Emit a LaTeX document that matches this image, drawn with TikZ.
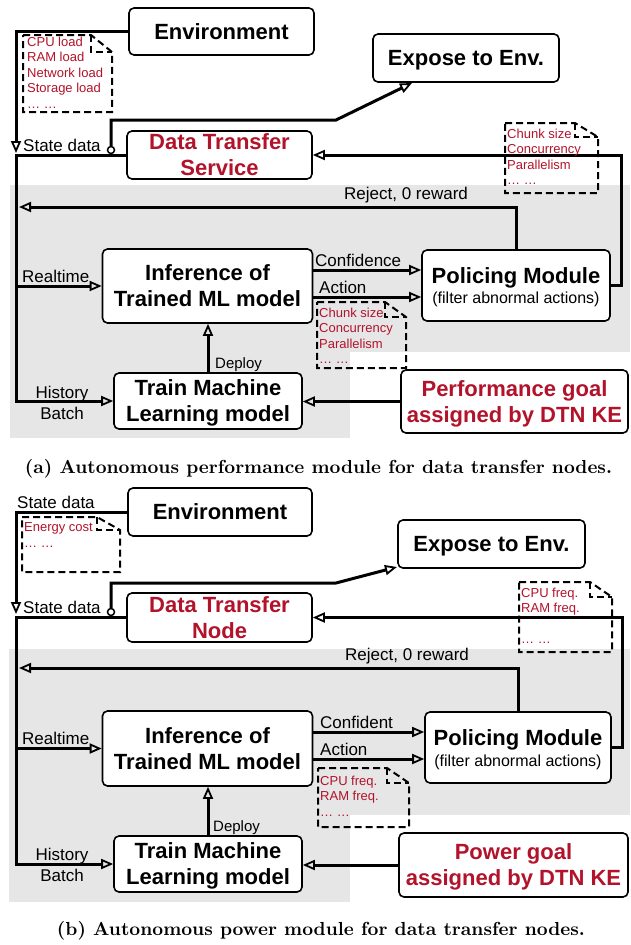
\documentclass[tikz,border=0pt]{standalone}
\usepackage{fontspec}
\setsansfont{Liberation Sans}
\usetikzlibrary{arrows.meta}
\definecolor{dred}{RGB}{178,18,42}
\definecolor{bggray}{RGB}{230,230,230}
\tikzset{
 box/.style={draw, rounded corners=5pt, line width=1.6pt, fill=white, align=center, inner sep=0pt, text depth=0pt, font=\sffamily\bfseries\fontsize{22}{26}\selectfont},
 conn/.style={line width=3pt},
 arr/.style={-{Triangle[open,length=12pt,width=10pt,line width=1.8pt]}},
 lbl/.style={font=\sffamily\fontsize{17}{20}\selectfont, inner sep=0pt},
 smalllbl/.style={font=\sffamily\fontsize{15}{18}\selectfont, inner sep=0pt},
 boldtxt/.style={font=\sffamily\bfseries\fontsize{22}{26}\selectfont, inner sep=0pt, anchor=base},
 subtxt/.style={font=\sffamily\fontsize{16}{19}\selectfont, inner sep=0pt, anchor=base},
 notetxt/.style={font=\sffamily\fontsize{13}{15.6}\selectfont, text=dred, inner sep=0pt, anchor=north west, align=left},
 notestroke/.style={draw, line width=2pt, dash pattern=on 7pt off 4pt},
 captxt/.style={font=\bfseries, inner sep=0pt, anchor=base},
 dot/.style={circle, draw, fill=white, line width=1.5pt, minimum size=7pt, inner sep=0pt}
}
\newcommand\notebox[6]{%
 \draw[notestroke] (#1,#2) -- (#5,#2) -- (#3,#6) -- (#3,#4) -- (#1,#4) -- cycle;
 \draw[notestroke] (#5,#2) -- (#5,#6) -- (#3,#6);}
\begin{document}
\begin{tikzpicture}[x=1pt,y=-1pt]
\useasboundingbox (0,0) rectangle (630,945);
% ---------- panel (a) ----------
\fill[bggray] (10,185) rectangle (630,352);
\fill[bggray] (10,352) rectangle (350,438);

\node[box, minimum width=185pt, minimum height=47pt] (envA) at (221.5,31.5) {Environment};
\node[box, minimum width=186pt, minimum height=48pt] (expA) at (466,58) {Expose to Env.};
\node[box, text=dred, minimum width=185pt, minimum height=48pt] (dtsA) at (219.5,155) {Data Transfer\\Service};
\node[box, minimum width=210pt, minimum height=74pt] (infA) at (207.5,286) {Inference of\\Trained ML model};
\node[box, minimum width=188pt, minimum height=71pt] (polA) at (516,285.5) {};
\node[boldtxt] (polA1) at (516,283) {Policing Module};
\node[subtxt] (polA2) at (516,303) {(filter abnormal actions)};
\node[box, minimum width=188pt, minimum height=56pt] (trnA) at (208,401) {Train Machine\\Learning model};
\node[box, text=dred, minimum width=227pt, minimum height=63pt] (perfA) at (514.5,401.5) {Performance goal\\assigned by DTN KE};

\coordinate (jA) at (16,155);
\coordinate (jAtip) at (16,153);
\coordinate (rtA) at (16,286);
\coordinate (bA) at (336,120);
\coordinate (eA) at (412,83);
\coordinate (rA) at (621,155);
\coordinate (rjA) at (19,207);
\coordinate (cfA) at (0,270);
\coordinate (acA) at (0,297);

\draw[conn,arr] (envA.west) -| (jAtip);
\draw[conn,arr] (dtsA.west) -- (jA) |- (trnA.west);
\draw[conn,arr] (rtA) -- (infA.west);
\node[dot] (cA) at (111,150) {};
\draw[conn,arr] (cA.north) |- (bA) -- (eA);
\draw[conn,arr] (polA.east) -| (rA) -- (dtsA.east);
\draw[conn,arr] (polA.north) |- (rjA);
\draw[conn,arr] (infA.east |- cfA) -- (polA.west |- cfA);
\draw[conn,arr] (infA.east |- acA) -- (polA.west |- acA);
\draw[conn,arr] (trnA.north) -- (trnA.north |- infA.south);
\draw[conn,arr] (perfA.west) -- (perfA.west -| trnA.east);

\node[lbl, anchor=base west] (sdA) at (23,151) {State data};
\node[lbl, anchor=base west] (rjlA) at (344,199) {Reject, 0 reward};
\node[lbl, anchor=base west] (rtlA) at (22,282) {Realtime};
\node[lbl, anchor=base] (hilA) at (62,398) {History};
\node[lbl, anchor=base] (balA) at (62,419) {Batch};
\node[smalllbl, anchor=base west] (dplA) at (215,368) {Deploy};
\node[lbl, anchor=base west] (cflA) at (315,266) {Confidence};
\node[lbl, anchor=base west] (aclA) at (319,293) {Action};

\notebox{23}{35}{112}{112}{91}{52}
\node[notetxt] (n1A) at (27,36.4) {CPU load\\RAM load\\Network load\\Storage load\\… …};
\notebox{505}{123}{598}{193}{575}{137}
\node[notetxt] (n2A) at (507,128.4) {Chunk size\\Concurrency\\Parallelism\\… …};
\notebox{317}{302}{406}{368}{385}{317}
\node[notetxt] (n3A) at (319,307.4) {Chunk size\\Concurrency\\Parallelism\\… …};

\node[captxt] (capA) at (318.5,473) {\resizebox{587pt}{!}{(a) Autonomous performance module for data transfer nodes.}};

% ---------- panel (b) ----------
\fill[bggray] (9,649) rectangle (630,815);
\fill[bggray] (9,815) rectangle (350,902);

\node[box, minimum width=184pt, minimum height=48pt] (envB) at (220,512) {Environment};
\node[box, minimum width=187pt, minimum height=48pt] (expB) at (491.5,544) {Expose to Env.};
\node[box, text=dred, minimum width=185pt, minimum height=49pt] (dtnB) at (219.5,617.5) {Data Transfer\\Node};
\node[box, minimum width=210pt, minimum height=75pt] (infB) at (207.5,748.5) {Inference of\\Trained ML model};
\node[box, minimum width=186pt, minimum height=71pt] (polB) at (518,747.5) {};
\node[boldtxt] (polB1) at (518,745) {Policing Module};
\node[subtxt] (polB2) at (518,766) {(filter abnormal actions)};
\node[box, minimum width=188pt, minimum height=56pt] (trnB) at (208,864) {Train Machine\\Learning model};
\node[box, text=dred, minimum width=229pt, minimum height=64pt] (powB) at (513.5,865) {Power goal\\assigned by DTN KE};

\coordinate (jB) at (16,617.5);
\coordinate (jBtip) at (16,614);
\coordinate (rtB) at (16,748.5);
\coordinate (bB) at (336,583);
\coordinate (eB) at (397,567);
\coordinate (rB) at (622,617.5);
\coordinate (rjB) at (19,668);
\coordinate (cfB) at (0,732);
\coordinate (acB) at (0,759);

\draw[conn,arr] (envB.west) -| (jBtip);
\draw[conn,arr] (dtnB.west) -- (jB) |- (trnB.west);
\draw[conn,arr] (rtB) -- (infB.west);
\node[dot] (cB) at (111,612) {};
\draw[conn,arr] (cB.north) |- (bB) -- (eB);
\draw[conn,arr] (polB.east) -| (rB) -- (dtnB.east);
\draw[conn,arr] (polB.north) |- (rjB);
\draw[conn,arr] (infB.east |- cfB) -- (polB.west |- cfB);
\draw[conn,arr] (infB.east |- acB) -- (polB.west |- acB);
\draw[conn,arr] (trnB.north) -- (trnB.north |- infB.south);
\draw[conn,arr] (powB.west) -- (powB.west -| trnB.east);

\node[lbl, anchor=base west] (sdB0) at (17,508) {State data};
\node[lbl, anchor=base west] (sdB) at (23,613) {State data};
\node[lbl, anchor=base west] (rjlB) at (345,660) {Reject, 0 reward};
\node[lbl, anchor=base west] (rtlB) at (22,744) {Realtime};
\node[lbl, anchor=base] (hilB) at (62,860) {History};
\node[lbl, anchor=base] (balB) at (62,881) {Batch};
\node[smalllbl, anchor=base west] (dplB) at (213,831) {Deploy};
\node[lbl, anchor=base west] (cflB) at (320,728) {Confident};
\node[lbl, anchor=base west] (aclB) at (320,755) {Action};

\notebox{22}{517}{120}{572}{97}{530}
\node[notetxt] (n1B) at (24,522.4) {Energy cost\\… …};
\notebox{519}{582}{612}{652}{590}{597}
\node[notetxt] (n2B) at (521,587.4) {CPU freq.\\RAM freq.\\[15.6pt]… …};
\notebox{318}{768}{409}{827}{387}{783}
\node[notetxt] (n3B) at (320,775.4) {CPU freq.\\RAM freq.\\… …};

\node[captxt] (capB) at (321,935) {\resizebox{528pt}{!}{(b) Autonomous power module for data transfer nodes.}};
\end{tikzpicture}
\end{document}
